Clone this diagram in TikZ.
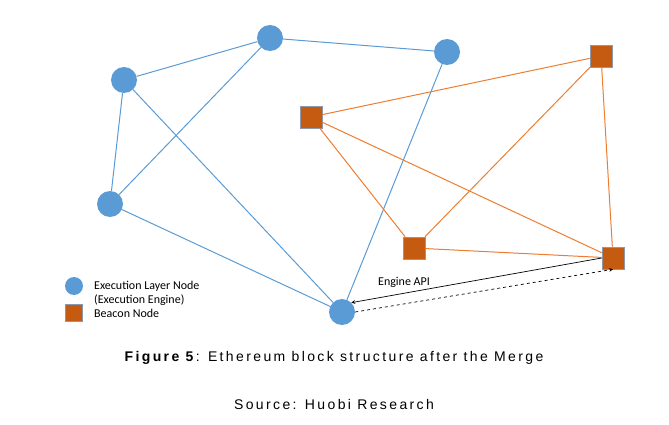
\documentclass[tikz,border=0pt]{standalone}
\usepackage{fontspec}
\setmainfont{Liberation Sans}
\newfontfamily\legendfont{Carlito}
\usetikzlibrary{arrows,calc}
\definecolor{ExecClr}{rgb}{0.357,0.608,0.835}
\definecolor{BeaconLineClr}{rgb}{0.929,0.490,0.192}
\definecolor{BeaconClr}{rgb}{0.773,0.353,0.067}
\definecolor{BorderClr}{rgb}{0.55,0.6,0.68}

\begin{document}
\begin{tikzpicture}[x=1pt,y=-1pt,>=stealth,
  exec/.style={circle,fill=ExecClr,inner sep=0pt,minimum size=26pt},
  beacon/.style={rectangle,fill=BeaconClr,draw=BorderClr,line width=.6pt,inner sep=0pt,minimum size=22pt},
  execline/.style={ExecClr,line width=1pt},
  beaconline/.style={BeaconLineClr,line width=1pt},
  legendtxt/.style={font=\legendfont\fontsize{12}{14}\selectfont,anchor=west,inner sep=0pt},
  captxt/.style={font=\fontsize{14}{16}\selectfont\addfontfeature{LetterSpace=17}}]
\useasboundingbox (0,0) rectangle (669,425);

\node[exec] (E1) at (124,80) {};
\node[exec] (E2) at (270,38) {};
\node[exec] (E3) at (447,52) {};
\node[exec] (E4) at (110,204) {};
\node[exec] (E5) at (342,312) {};

\node[beacon] (B1) at (311,117) {};
\node[beacon] (B2) at (601,56) {};
\node[beacon] (B3) at (414,248) {};
\node[beacon] (B4) at (613,258) {};

\draw[execline] (E1) -- (E2) -- (E3);
\draw[execline] (E1) -- (E4) -- (E5);
\draw[execline] (E1) -- (E5);
\draw[execline] (E2) -- (E4);
\draw[execline] (E3) -- (E5);

\draw[beaconline] (B1) -- (B2) -- (B4) -- (B3) -- (B1) -- (B4);
\draw[beaconline] (B2) -- (B3);

\draw[->,line width=.7pt] (B4.west) -- (E5.north east);
\draw[->,dashed,line width=.7pt] (E5.east) -- (B4.south);
\node[legendtxt,anchor=center] (api) at (404,282) {Engine API};

\node[exec,minimum size=18pt] (LE) at (74,286) {};
\node[beacon,minimum size=17pt] (LB) at (74,313) {};
\node[legendtxt] (LEt) at (94,286) {Execution Layer Node};
\node[legendtxt] (LEt2) at (94,300) {(Execution Engine)};
\node[legendtxt] (LBt) at (94,313) {Beacon Node};

\node[captxt] (cap) at (334,358) {\textbf{Figure 5}: Ethereum block structure after the Merge};
\node[captxt] (src) at (334,404) {Source: Huobi Research};
\end{tikzpicture}
\end{document}
